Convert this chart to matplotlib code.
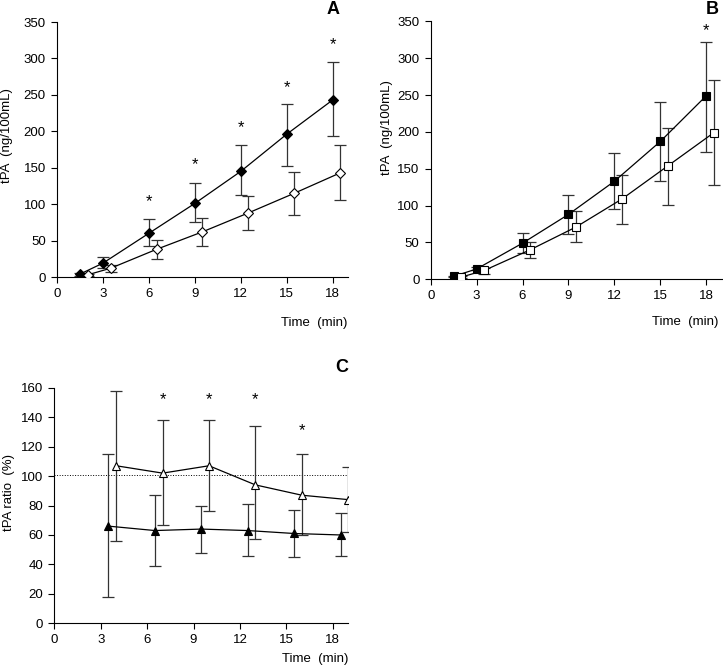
import matplotlib
matplotlib.use("Agg")
import matplotlib.pyplot as plt

plt.rcParams['font.family'] = ['Liberation Sans', 'DejaVu Sans']
plt.rcParams['font.size'] = 9.5

# ── Panel A data ──────────────────────────────────────────────
a_x_filled = [1.5, 3, 6, 9, 12, 15, 18]
a_y_filled = [4, 19, 60, 101, 145, 196, 243]
a_hi_filled = [6, 27, 80, 129, 181, 237, 295]
a_lo_filled = [2, 13, 42, 76, 112, 153, 193]

a_x_open = [2, 3.5, 6.5, 9.5, 12.5, 15.5, 18.5]
a_y_open = [3, 12, 38, 62, 88, 115, 143]
a_hi_open = [4, 17, 51, 81, 111, 144, 181]
a_lo_open = [2, 7, 25, 42, 64, 85, 106]

a_star_x = [6, 9, 12, 15, 18]
a_star_y = [104, 154, 205, 260, 319]

# ── Panel B data ──────────────────────────────────────────────
b_x_filled = [1.5, 3, 6, 9, 12, 15, 18]
b_y_filled = [4, 14, 49, 88, 133, 187, 249]
b_hi_filled = [5, 16, 63, 114, 172, 241, 322]
b_lo_filled = [3, 12, 36, 62, 95, 134, 173]

b_x_open = [2, 3.5, 6.5, 9.5, 12.5, 15.5, 18.5]
b_y_open = [3, 12, 40, 71, 109, 154, 199]
b_hi_open = [4, 15, 51, 93, 142, 205, 270]
b_lo_open = [2, 7, 29, 50, 75, 101, 128]

b_star_x = [18]
b_star_y = [338]

# ── Panel C data ──────────────────────────────────────────────
c_x_open = [4, 7, 10, 13, 16, 19]
c_y_open = [107, 102, 107, 94, 87, 84]
c_hi_open = [158, 138, 138, 134, 115, 106]
c_lo_open = [56, 67, 76, 57, 60, 62]

c_x_filled = [3.5, 6.5, 9.5, 12.5, 15.5, 18.5]
c_y_filled = [66, 63, 64, 63, 61, 60]
c_hi_filled = [115, 87, 80, 81, 77, 75]
c_lo_filled = [18, 39, 48, 46, 45, 46]

c_star_x = [7, 10, 13, 16]
c_star_y = [152, 152, 152, 131]
c_ref = 101

x_ticks = [0, 3, 6, 9, 12, 15, 18]

W, H = 723, 667


def errs(y, hi, lo):
    return [[v - l for v, l in zip(y, lo)], [h - v for v, h in zip(y, hi)]]


def series(ax, x, y, hi, lo, marker, face, ms=5.5):
    ax.errorbar(x, y, yerr=errs(y, hi, lo), fmt='none', ecolor='#333333',
                elinewidth=0.9, capsize=4, capthick=0.9, zorder=2)
    ax.plot(x, y, '-', color='black', lw=0.9, marker=marker, ms=ms,
            mfc=face, mec='black', mew=0.8, zorder=3)


def style(ax, ylim, yticks):
    for s in ['top', 'right']:
        ax.spines[s].set_visible(False)
    ax.set_xlim(0, 19)
    ax.set_ylim(*ylim)
    ax.set_xticks(x_ticks)
    ax.set_yticks(yticks)
    ax.tick_params(direction='out', length=4, width=0.8, labelsize=9.5, pad=4)


def px(x, y):
    return x / W, 1 - y / H


fig = plt.figure(figsize=(7.23, 6.67), dpi=100)

# Panel A
axA = fig.add_axes([0.0788, 0.5847, 0.4025, 0.3823])
series(axA, a_x_filled, a_y_filled, a_hi_filled, a_lo_filled, 'D', 'black', 5)
series(axA, a_x_open, a_y_open, a_hi_open, a_lo_open, 'D', 'white', 5)
for sx, sy in zip(a_star_x, a_star_y):
    axA.text(sx, sy, '*', ha='center', va='center', fontsize=12)
style(axA, (0, 350), range(0, 351, 50))
axA.set_ylabel('tPA  (ng/100mL)')
axA.yaxis.set_label_coords(-0.151, 0.553)
fig.text(*px(347, 323), 'Time  (min)', ha='right', va='center')
fig.text(*px(333, 9), 'A', ha='center', va='center', fontsize=13, fontweight='bold')

# Panel B
axB = fig.add_axes([0.5957, 0.5813, 0.4023, 0.3867])
series(axB, b_x_filled, b_y_filled, b_hi_filled, b_lo_filled, 's', 'black')
series(axB, b_x_open, b_y_open, b_hi_open, b_lo_open, 's', 'white')
for sx, sy in zip(b_star_x, b_star_y):
    axB.text(sx, sy, '*', ha='center', va='center', fontsize=12)
style(axB, (0, 350), range(0, 351, 50))
axB.set_ylabel('tPA  (ng/100mL)')
axB.yaxis.set_label_coords(-0.13, 0.59)
fig.text(*px(718, 322), 'Time  (min)', ha='right', va='center')
fig.text(*px(712, 9), 'B', ha='center', va='center', fontsize=13, fontweight='bold')

# Panel C
axC = fig.add_axes([0.0751, 0.0655, 0.4066, 0.3532])
axC.axhline(c_ref, color='black', lw=0.7, ls=':', zorder=1)
series(axC, c_x_open, c_y_open, c_hi_open, c_lo_open, '^', 'white', 6)
series(axC, c_x_filled, c_y_filled, c_hi_filled, c_lo_filled, '^', 'black', 6)
for sx, sy in zip(c_star_x, c_star_y):
    axC.text(sx, sy, '*', ha='center', va='center', fontsize=12)
style(axC, (0, 160), range(0, 161, 20))
axC.set_ylabel('tPA ratio  (%)')
axC.yaxis.set_label_coords(-0.134, 0.557)
fig.text(*px(348, 659), 'Time  (min)', ha='right', va='center')
fig.text(*px(342, 367), 'C', ha='center', va='center', fontsize=13, fontweight='bold')

plt.savefig('out.png', dpi=100)
